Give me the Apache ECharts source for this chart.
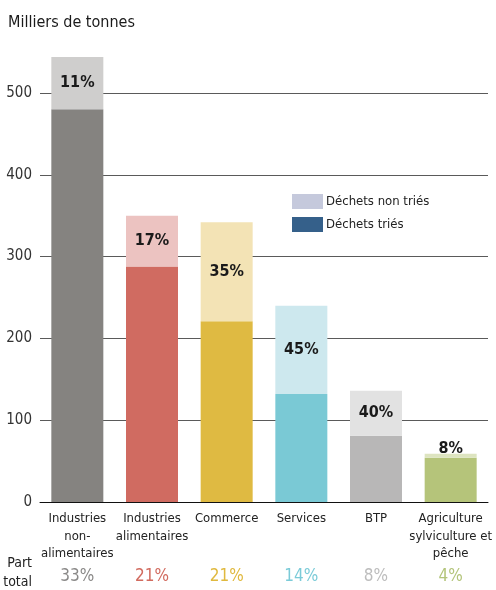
<!DOCTYPE html>
<html><head><meta charset="utf-8">
<script src="https://cdn.jsdelivr.net/npm/echarts@6/dist/echarts.min.js"></script>
<style>html,body{margin:0;padding:0;background:#fff}#c{width:496px;height:590px}</style>
</head><body><div id="c"></div>
<script>
const categories = ["Industries\nnon-\nalimentaires", "Industries\nalimentaires", "Commerce", "Services", "BTP", "Agriculture\nsylviculture et\npêche"];
const sortedValues = [480, 288, 221, 132, 81, 54];
const unsortedValues = [64, 62, 121, 108, 55, 5];
const unsortedPct = ["11%", "17%", "35%", "45%", "40%", "8%"];
const shareOfTotal = ["33%", "21%", "21%", "14%", "8%", "4%"];
const yTicks = [0, 100, 200, 300, 400, 500];
const sortedColors = ["#858380", "#d06b61", "#dfba42", "#7ac9d5", "#b8b7b7", "#b5c47a"];
const unsortedColors = ["#cfcecd", "#ecc3c1", "#f3e3b5", "#cde8ee", "#e2e2e2", "#dde4c0"];
const shareColors = ["#8a8988", "#d26b5f", "#e0b93f", "#7bcbd8", "#bdbdbd", "#b3c47a"];
const FONT = "'DejaVu Sans Condensed', 'DejaVu Sans', sans-serif";

const chart = echarts.init(document.getElementById('c'), null, {renderer: 'canvas'});
chart.setOption({
  animation: false,
  textStyle: {fontFamily: FONT},
  title: {text: "Milliers de tonnes", left: 3, top: 10, textStyle: {fontFamily: FONT, fontSize: 16, fontWeight: 'normal', color: '#1a1a1a'}},
  legend: {
    left: 287, top: 189, orient: 'vertical', itemWidth: 31, itemHeight: 15, itemGap: 8,
    icon: 'rect', data: ["Déchets non triés", "Déchets triés"],
    textStyle: {fontFamily: FONT, fontSize: 13, color: '#222', padding: [0, 0, 0, -2]}
  },
  grid: {left: 40, right: 8, top: 93, bottom: 88, containLabel: false},
  xAxis: [{
    type: 'category', data: categories,
    axisLine: {lineStyle: {color: '#111', width: 1}}, axisTick: {show: false},
    axisLabel: {interval: 0, margin: 8, fontFamily: FONT, fontSize: 13, lineHeight: 17.5, color: '#222'}
  }, {
    type: 'category', position: 'bottom',
    data: shareOfTotal.map((v, i) => ({value: v, textStyle: {color: shareColors[i]}})),
    axisLine: {show: false}, axisTick: {show: false},
    axisLabel: {interval: 0, margin: 66, fontFamily: FONT, fontSize: 17}
  }],
  yAxis: {
    type: 'value', min: yTicks[0], max: yTicks[yTicks.length - 1], interval: 100,
    axisLine: {show: false}, axisTick: {show: false},
    axisLabel: {margin: 8, fontFamily: FONT, fontSize: 15, color: '#333'},
    splitLine: {lineStyle: {color: '#5a5a5a', width: 1}}
  },
  graphic: [{
    type: 'text', x: 32, y: 554,
    style: {text: "Part\ndu total", align: 'right', verticalAlign: 'top', fontFamily: FONT, fontSize: 14, lineHeight: 19, fill: '#222'}
  }],
  series: [{
    name: "Déchets triés", type: 'bar', stack: 'a', barWidth: 52, clip: false,
    itemStyle: {color: '#35608a'},
    data: sortedValues.map((v, i) => ({value: v, itemStyle: {color: sortedColors[i]}}))
  }, {
    name: "Déchets non triés", type: 'bar', stack: 'a', barWidth: 52, clip: false,
    itemStyle: {color: '#c5c9dc'},
    data: unsortedValues.map((v, i) => ({
      value: v, itemStyle: {color: unsortedColors[i]},
      label: {
        show: true, position: v < 20 ? 'top' : 'inside', distance: -3,
        formatter: unsortedPct[i], fontFamily: FONT, fontSize: 16, fontWeight: 'bold', color: '#1a1a1a'
      }
    }))
  }]
});
</script></body></html>
